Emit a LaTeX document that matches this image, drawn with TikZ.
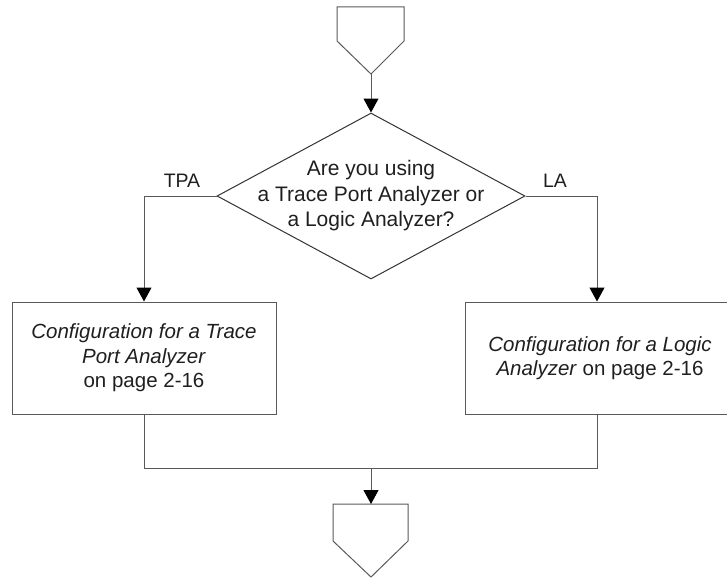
\documentclass[tikz,border=0pt]{standalone}
\usepackage{fontspec}
\setmainfont{Liberation Sans}
\usetikzlibrary{shapes.geometric,arrows.meta}
\definecolor{linegray}{gray}{0.35}
\definecolor{textgray}{gray}{0.12}
\tikzset{
  flow/.style={draw=linegray, line width=1pt},
  conn/.style={draw=linegray, line width=1pt, -{Triangle[width=15pt,length=14pt,fill=black,color=black]}},
  plain/.style={draw=linegray, line width=1pt},
  boxnode/.style={draw=linegray, line width=1pt, rectangle, minimum width=264pt, minimum height=112pt, inner sep=0pt},
  dianode/.style={draw=black!80, line width=1pt, diamond, minimum width=308pt, minimum height=166pt, inner sep=0pt},
  txt/.style={text=textgray, font=\fontsize{20.5}{24.5}\selectfont, align=center, inner sep=0pt},
}
\begin{document}
\begin{tikzpicture}[x=1pt,y=-1pt]
\useasboundingbox (0,0) rectangle (727,578);
% start connector (pentagon)
\draw[flow] (337,7) -- (404,7) -- (404,41) -- (371,74) -- (337,41) -- cycle;
\coordinate (startTip) at (371,74);
% decision
\node[dianode] (dia) at (371,196) {};
\node[txt, font=\fontsize{21}{25.5}\selectfont] (diatext) at (371,196) {Are you using\\a Trace Port Analyzer or\\a Logic Analyzer?};
% boxes
\node[boxnode] (boxL) at (144,358) {};
\node[txt] (boxLtext) at (144,358) {\textit{Configuration for a Trace}\\\textit{Port Analyzer}\\on page 2-16};
\node[boxnode] (boxR) at (597,358) {};
\node[txt] (boxRtext) at (600,358) {\textit{Configuration for a Logic}\\\textit{Analyzer} on page 2-16};
% end connector (pentagon)
\draw[flow] (333,504) -- (408,504) -- (408,541) -- (371,577) -- (333,541) -- cycle;
\coordinate (endTop) at (371,504);
\coordinate (join) at (371,468);
% connectors
\draw[conn] (startTip) -- (dia.north);
\draw[conn] (dia.west) -| (boxL.north);
\draw[conn] (dia.east) -| (boxR.north);
\draw[plain] (boxL.south) |- (join);
\draw[plain] (boxR.south) |- (join);
\draw[conn] (join) -- (endTop);
% labels
\node[txt, font=\fontsize{19.5}{23}\selectfont] (tpa) at (182,181) {TPA};
\node[txt, font=\fontsize{19.5}{23}\selectfont] (la) at (555,181) {LA};
\end{tikzpicture}
\end{document}
